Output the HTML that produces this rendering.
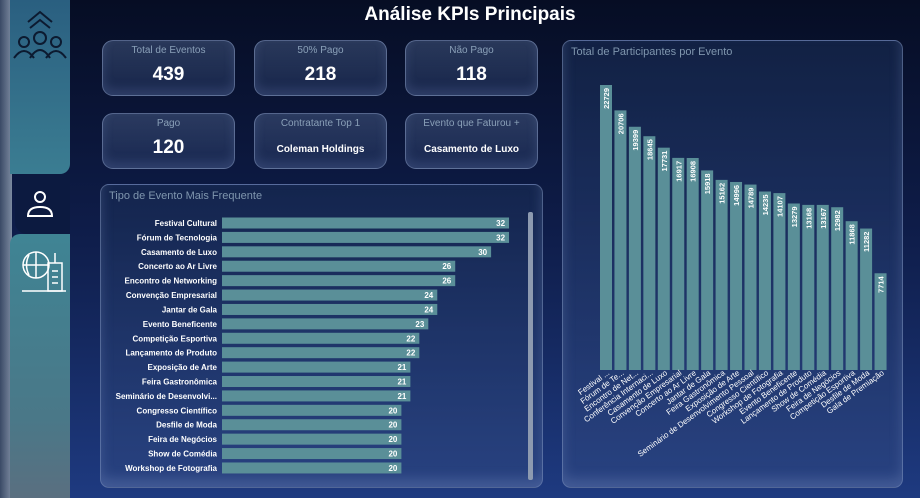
<!DOCTYPE html>
<html><head><meta charset="utf-8"><style>
*{margin:0;padding:0;box-sizing:border-box}
body{width:920px;height:498px;overflow:hidden;position:relative;font-family:"Liberation Sans",sans-serif;background:linear-gradient(180deg,#060d24 0%,#0e1c48 45%,#1e3a80 100%);}
.card{position:absolute;border:1px solid rgba(160,180,220,.45);border-radius:11px;background:linear-gradient(180deg,rgba(70,90,130,.55),rgba(40,60,105,.45));box-shadow:inset 0 -6px 10px rgba(120,140,190,.25);text-align:center;color:#fff}
.card .t{font-size:10px;color:#8aa0b8;margin-top:4px}
.card .v{font-size:19px;font-weight:bold;margin-top:8px}
.card .s{font-size:10px;font-weight:bold;margin-top:15px}
.panel{position:absolute;border:1px solid rgba(150,170,210,.45);border-radius:9px;background:linear-gradient(180deg,rgba(25,45,85,.6),rgba(45,70,130,.7));box-shadow:inset 0 -8px 12px rgba(130,150,200,.3)}
.pt{position:absolute;left:8px;top:5px;font-size:11px;color:#7f96ae}
</style></head><body>
<div style="position:absolute;left:0;top:0;width:12px;height:498px;background:linear-gradient(90deg,#3a4a66,#7c8aa0)"></div>
<div style="position:absolute;left:10px;top:0;width:60px;height:174px;background:linear-gradient(180deg,#2a5f80,#3b7d92);border-radius:0 0 10px 0"></div>
<div style="position:absolute;left:15px;top:174px;width:55px;height:60px;background:#0c1a40;border-radius:12px 0 0 12px"></div>
<div style="position:absolute;left:10px;top:234px;width:60px;height:264px;background:linear-gradient(180deg,#3f8494,#4a7888 70%,#5a6f80);border-radius:10px 0 0 0"></div>
<svg style="position:absolute;left:10px;top:8px" width="60" height="55" viewBox="0 0 60 55" fill="none" stroke="#0c1a30" stroke-width="2"><path d="M18 14 L30 4 L42 14 M20 20 L30 12 L40 20"/><circle cx="30" cy="30" r="6"/><circle cx="14" cy="34" r="5"/><circle cx="46" cy="34" r="5"/><path d="M4 50 Q14 36 24 50 M20 50 Q30 34 40 50 M36 50 Q46 36 56 50"/></svg>
<svg style="position:absolute;left:25px;top:188px" width="30" height="32" fill="none" stroke="#fff" stroke-width="2"><circle cx="15" cy="9" r="5"/><path d="M3 28 Q3 19 15 19 Q27 19 27 28 Z"/></svg>
<svg style="position:absolute;left:20px;top:247px" width="48" height="48" fill="none" stroke="#fff" stroke-width="1.5"><circle cx="16" cy="18" r="13"/><path d="M3 18 H29 M16 5 V31 M9 8 Q4 18 9 28"/><rect x="28" y="16" width="14" height="28"/><path d="M35 16 V6 M32 24 H38 M32 30 H38 M32 36 H38 M2 44 H46"/></svg>
<div style="position:absolute;left:0;width:920px;top:4px;text-align:center;color:#fff;font-weight:bold;font-size:19px;padding-left:20px">Análise KPIs Principais</div>
<div class="card" style="left:102px;top:40px;width:133px;height:56px"><div class="t">Total de Eventos</div><div class="v">439</div></div>
<div class="card" style="left:254px;top:40px;width:133px;height:56px"><div class="t">50% Pago</div><div class="v">218</div></div>
<div class="card" style="left:405px;top:40px;width:133px;height:56px"><div class="t">Não Pago</div><div class="v">118</div></div>
<div class="card" style="left:102px;top:113px;width:133px;height:56px"><div class="t">Pago</div><div class="v">120</div></div>
<div class="card" style="left:254px;top:113px;width:133px;height:56px"><div class="t">Contratante Top 1</div><div class="s">Coleman Holdings</div></div>
<div class="card" style="left:405px;top:113px;width:133px;height:56px"><div class="t">Evento que Faturou +</div><div class="s">Casamento de Luxo</div></div>
<div class="panel" style="left:100px;top:184px;width:443px;height:304px"><div class="pt">Tipo de Evento Mais Frequente</div></div>
<div class="panel" style="left:562px;top:40px;width:341px;height:448px"><div class="pt">Total de Participantes por Evento</div></div>
<svg style="position:absolute;left:0;top:0" width="920" height="498" font-family="Liberation Sans" font-size="8" fill="#fff">
<rect x="528" y="212" width="5" height="268" rx="2" fill="#8d9ab0"/>
<g id="L"></g><g id="R"></g>
</svg>
<script>
var ns="http://www.w3.org/2000/svg";
function el(g,t,a,txt){var e=document.createElementNS(ns,t);for(var k in a)e.setAttribute(k,a[k]);if(txt)e.textContent=txt;g.appendChild(e);}
var L=document.getElementById('L');
var ln=[["Festival Cultural",32],["Fórum de Tecnologia",32],["Casamento de Luxo",30],["Concerto ao Ar Livre",26],["Encontro de Networking",26],["Convenção Empresarial",24],["Jantar de Gala",24],["Evento Beneficente",23],["Competição Esportiva",22],["Lançamento de Produto",22],["Exposição de Arte",21],["Feira Gastronômica",21],["Seminário de Desenvolvi...",21],["Congresso Científico",20],["Desfile de Moda",20],["Feira de Negócios",20],["Show de Comédia",20],["Workshop de Fotografia",20]];
ln.forEach(function(d,i){var y=217.5+14.41*i,w=d[1]*8.97;
el(L,'rect',{x:222,y:y,width:w,height:11,fill:'#5a8f98'});
el(L,'text',{x:217,y:y+8.5,'text-anchor':'end','font-weight':'bold'},d[0]);
el(L,'text',{x:222+w-4,y:y+8.5,'text-anchor':'end','font-weight':'bold'},d[1]);});
var R=document.getElementById('R');
var rn=[["Festival ...",22729],["Fórum de Te...",20706],["Encontro de Net...",19399],["Conferência Internaci...",18645],["Casamento de Luxo",17731],["Convenção Empresarial",16917],["Concerto ao Ar Livre",16908],["Jantar de Gala",15918],["Feira Gastronômica",15162],["Exposição de Arte",14996],["Seminário de Desenvolvimento Pessoal",14789],["Congresso Científico",14235],["Workshop de Fotografia",14107],["Evento Beneficente",13279],["Lançamento de Produto",13168],["Show de Comédia",13167],["Feira de Negócios",12982],["Competição Esportiva",11868],["Desfile de Moda",11282],["Gala de Premiação",7714]];
rn.forEach(function(d,i){var x=600+14.45*i,h=d[1]*285/22729,y=370-h;
el(R,'rect',{x:x,y:y,width:12,height:h,fill:'#5a8f98'});
el(R,'text',{x:0,y:0,transform:'translate('+(x+9)+','+(y+3)+') rotate(-90)','text-anchor':'end','font-weight':'bold','font-size':'7.5'},d[1]);
el(R,'text',{x:0,y:0,transform:'translate('+(x+10)+',374) rotate(-36)','text-anchor':'end','font-size':'8'},d[0]);});
</script>
</body></html>
